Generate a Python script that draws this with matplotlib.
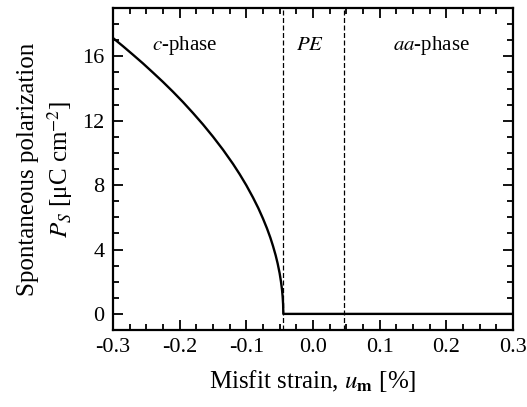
import matplotlib
matplotlib.use("Agg")
import matplotlib.pyplot as plt
from matplotlib.ticker import MultipleLocator

plt.rcParams['font.family'] = ['Liberation Serif', 'DejaVu Serif']
plt.rcParams['mathtext.fontset'] = 'stix'

# misfit strain [%] and spontaneous polarization [uC/cm^2]
strain = [-0.300, -0.285, -0.270, -0.255, -0.240, -0.225, -0.210, -0.195,
          -0.180, -0.165, -0.150, -0.135, -0.120, -0.110, -0.100, -0.090,
          -0.082, -0.075, -0.069, -0.064, -0.060, -0.056, -0.053, -0.050,
          -0.048, -0.0465, -0.0455, -0.0448, -0.0445, 0.300]
pol = [17.14, 16.63, 16.10, 15.56, 14.99, 14.41, 13.80, 13.16,
       12.48, 11.77, 11.01, 10.20, 9.32, 8.68, 7.99, 7.23,
       6.57, 5.92, 5.31, 4.74, 4.22, 3.64, 3.13, 2.52,
       2.00, 1.52, 1.07, 0.59, 0.0, 0.0]

# phase boundaries
bounds = [-0.045, 0.047]
phase_names = [r"$c$-phase", r"$PE$", r"$aa$-phase"]
phase_x = [-0.193, -0.004, 0.177]

fig = plt.figure(figsize=(5.27, 4.07), dpi=100)
ax = fig.add_axes([0.2144, 0.1892, 0.759, 0.791])

ax.plot(strain, pol, color='black', lw=1.7)
for b in bounds:
    ax.axvline(b, color='black', lw=0.9, ls=(0, (4, 2)))
for name, xp in zip(phase_names, phase_x):
    ax.text(xp, 16.7, name, ha='center', va='center', fontsize=15)

ax.set_xlim(-0.3, 0.3)
ax.set_ylim(-1, 19)
ax.xaxis.set_major_locator(MultipleLocator(0.1))
ax.xaxis.set_minor_locator(MultipleLocator(0.025))
ax.yaxis.set_major_locator(MultipleLocator(4))
ax.yaxis.set_minor_locator(MultipleLocator(1))
ax.set_xticklabels([f"{v:.1f}" for v in ax.get_xticks()])
ax.tick_params(which='both', direction='in', top=True, right=True, labelsize=16, width=1.3)
ax.tick_params(which='major', length=7, pad=6)
ax.tick_params(which='minor', length=4)
for s in ax.spines.values():
    s.set_linewidth(1.6)

ax.set_xlabel(r"Misfit strain, $u_\mathbf{m}$ [%]", fontsize=18, labelpad=8)
ax.set_ylabel("Spontaneous polarization\n" + r"$P_S$ [μC cm$^{-2}$]", fontsize=18,
              linespacing=1.3, labelpad=5)

fig.savefig("out.png", dpi=100)
